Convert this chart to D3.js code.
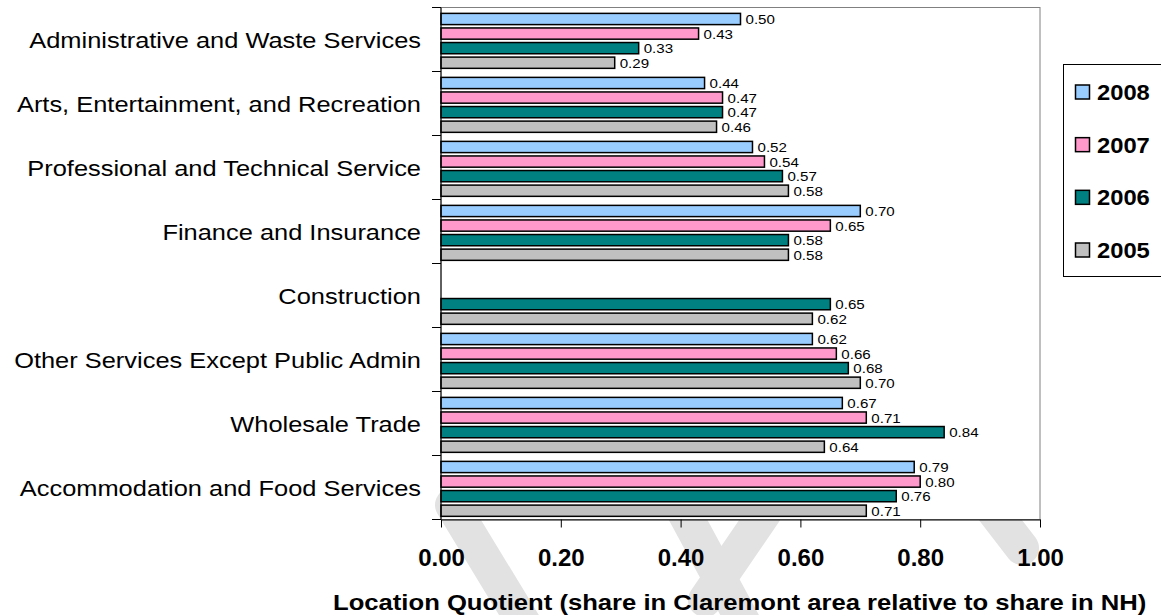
<!DOCTYPE html>
<html>
<head>
<meta charset="utf-8">
<script src="https://cdn.jsdelivr.net/npm/d3@7"></script>
<style>
  body { margin: 0; background: #fff; }
  text { font-family: Arial, "Liberation Sans", sans-serif; }
</style>
</head>
<body>
<svg id="chart"></svg>
<script>
let categories = [
  "Administrative and Waste Services",
  "Arts, Entertainment, and Recreation",
  "Professional and Technical Service",
  "Finance and Insurance",
  "Construction",
  "Other Services Except Public Admin",
  "Wholesale Trade",
  "Accommodation and Food Services"
];
let years = ["2008", "2007", "2006", "2005"];

// location quotient per category, one list per year (null = no bar)
let lq2008 = [0.50, 0.44, 0.52, 0.70, null, 0.62, 0.67, 0.79];
let lq2007 = [0.43, 0.47, 0.54, 0.65, null, 0.66, 0.71, 0.80];
let lq2006 = [0.33, 0.47, 0.57, 0.58, 0.65, 0.68, 0.84, 0.76];
let lq2005 = [0.29, 0.46, 0.58, 0.58, 0.62, 0.70, 0.64, 0.71];

let xTicks = [0, 0.2, 0.4, 0.6, 0.8, 1.0];
let yearColors = ["#99ccff", "#ff99cc", "#008080", "#c0c0c0"];

let series = [lq2008, lq2007, lq2006, lq2005];
let rows = [];
categories.forEach((c, i) => {
  years.forEach((yr, j) => {
    if (series[j][i] != null) rows.push({ cat: c, year: yr, value: series[j][i] });
  });
});

let width = 1161, height = 615;
let svg = d3.select("#chart").attr("width", width).attr("height", height);
svg.append("rect").attr("width", width).attr("height", height).attr("fill", "#fff");

let x = d3.scaleLinear().domain([0, 1]).range([441, 1040]);
let y = d3.scaleBand().domain(categories).range([7.5, 519.5]);
let yInner = d3.scaleBand().domain(years).range([0, y.bandwidth()])
  .paddingInner(0.23).paddingOuter(0.31).align(0.65);
let color = d3.scaleOrdinal().domain(years).range(yearColors);
let fmt = d3.format(".2f");

// faint watermark strokes under the axis area
let wm = svg.append("g").attr("stroke", "#e2e2e2").attr("stroke-width", 34)
  .attr("stroke-linecap", "round").attr("fill", "none");
wm.append("line").attr("x1", 452).attr("y1", 505).attr("x2", 525).attr("y2", 625);
wm.append("line").attr("x1", 680).attr("y1", 505).attr("x2", 745).attr("y2", 625);
wm.append("line").attr("x1", 770).attr("y1", 505).attr("x2", 705).attr("y2", 600);
wm.append("line").attr("x1", 985).attr("y1", 500).attr("x2", 1022).attr("y2", 548);

// plot area
svg.append("rect")
  .attr("x", x(0)).attr("y", 7.5)
  .attr("width", x(1) - x(0)).attr("height", 512)
  .attr("fill", "#fff").attr("stroke", "#808080").attr("stroke-width", 1);

// bars
let bars = svg.append("g");
bars.selectAll("rect").data(rows).join("rect")
  .attr("x", x(0))
  .attr("y", d => y(d.cat) + yInner(d.year))
  .attr("width", d => x(d.value) - x(0))
  .attr("height", yInner.bandwidth())
  .attr("fill", d => color(d.year))
  .attr("stroke", "#000").attr("stroke-width", 1.5);

// value labels
bars.selectAll("g.lbl").data(rows).join("g").attr("class", "lbl")
  .attr("transform", d => `translate(${x(d.value) + 5},${y(d.cat) + yInner(d.year) + yInner.bandwidth() / 2}) scale(1.12,1)`)
  .append("text")
  .attr("dy", "0.38em")
  .attr("font-size", 13.5)
  .attr("fill", "#000")
  .text(d => fmt(d.value));

// x axis
let xAxis = svg.append("g").attr("transform", "translate(0,519.5)")
  .call(d3.axisBottom(x).tickValues(xTicks).tickFormat(fmt).tickSize(8).tickSizeOuter(0));
xAxis.select(".domain").attr("stroke", "#000");
xAxis.selectAll(".tick line").attr("stroke", "#000");
xAxis.selectAll(".tick text")
  .attr("y", 46).attr("dy", "0")
  .attr("font-size", 24).attr("font-weight", "bold").attr("fill", "#000");

// y axis: line and ticks at category boundaries
let yAxis = svg.append("g");
yAxis.append("line")
  .attr("x1", x(0)).attr("x2", x(0)).attr("y1", 7.5).attr("y2", 519.5)
  .attr("stroke", "#000");
let bounds = categories.map(c => y(c)).concat([y.range()[1]]);
yAxis.selectAll("line.tk").data(bounds).join("line").attr("class", "tk")
  .attr("x1", x(0) - 9).attr("x2", x(0))
  .attr("y1", d => d).attr("y2", d => d)
  .attr("stroke", "#000");

yAxis.selectAll("g.cat").data(categories).join("g").attr("class", "cat")
  .attr("transform", d => `translate(421,${y(d) + y.bandwidth() / 2}) scale(1.13,1)`)
  .append("text")
  .attr("text-anchor", "end").attr("dy", "0.36em")
  .attr("font-size", 22.5).attr("fill", "#000")
  .text(d => d);

// axis title
svg.append("g").attr("transform", "translate(333,610) scale(1.14,1)")
  .append("text")
  .attr("font-size", 22.5).attr("font-weight", "bold").attr("fill", "#000")
  .text("Location Quotient (share in Claremont area relative to share in NH)");

// legend
let legend = svg.append("g");
legend.append("rect")
  .attr("x", 1063.5).attr("y", 64.5).attr("width", 130).attr("height", 212)
  .attr("fill", "#fff").attr("stroke", "#000").attr("stroke-width", 1);
let legY = d3.scalePoint().domain(years).range([92, 250]);
let item = legend.selectAll("g.item").data(years).join("g").attr("class", "item")
  .attr("transform", d => `translate(0,${legY(d)})`);
item.append("rect")
  .attr("x", 1075.5).attr("y", -7).attr("width", 14).attr("height", 14)
  .attr("fill", d => color(d)).attr("stroke", "#000").attr("stroke-width", 1.5);
item.append("g").attr("transform", "translate(1097,0) scale(1.08,1)")
  .append("text")
  .attr("dy", "0.36em")
  .attr("font-size", 22).attr("font-weight", "bold").attr("fill", "#000")
  .text(d => d);
</script>
</body>
</html>
